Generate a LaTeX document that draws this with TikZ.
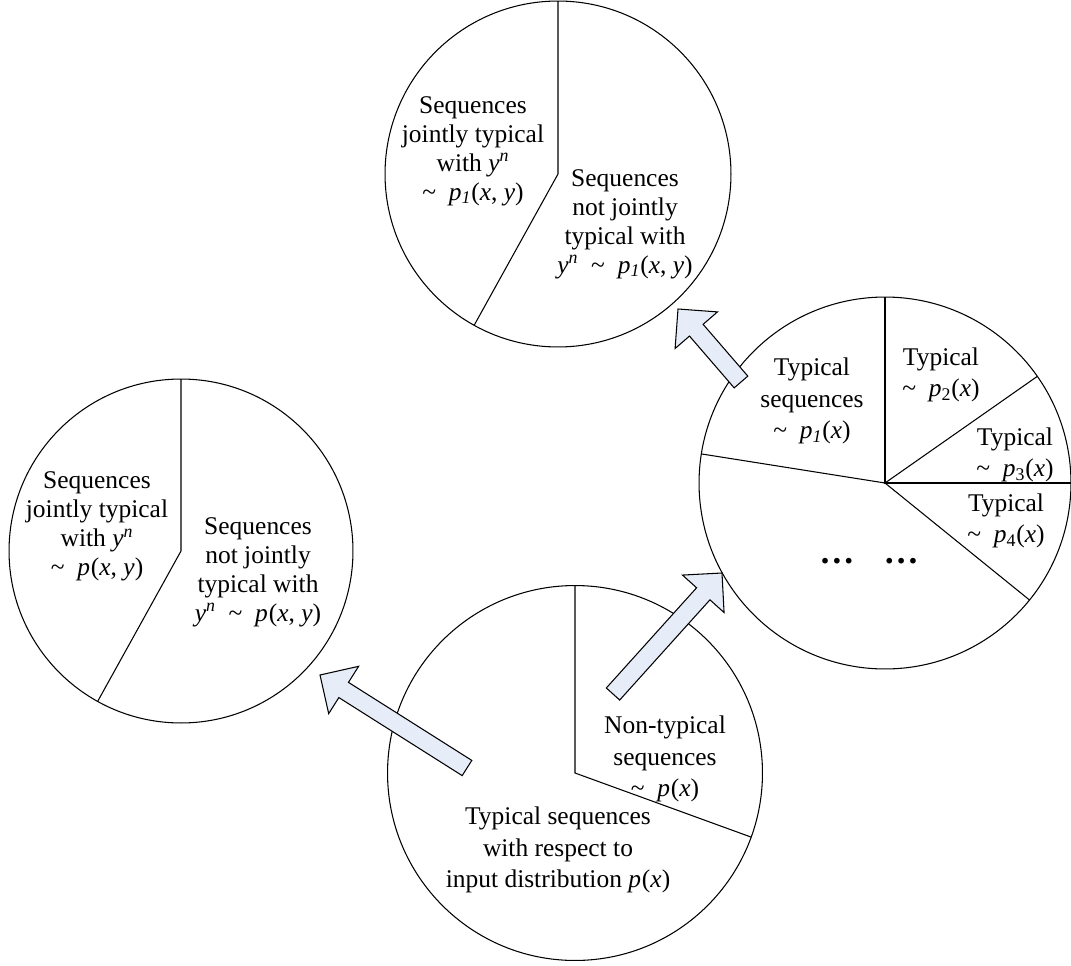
\documentclass[tikz,border=0pt]{standalone}
\usepackage{fontspec}
\setmainfont{Liberation Serif}
\usepackage{xcolor}
\usetikzlibrary{calc}

\definecolor{arrowblue}{RGB}{230,236,248}
\newcommand{\yn}{\textit{y}\textsuperscript{\textit{n}}}
\newcommand{\pof}[2]{\textit{p}\textsubscript{#1}(#2)}
\newcommand{\dist}{\textasciitilde\ \ }

\tikzset{
	region/.style={circle, draw=black, line width=0.6pt, inner sep=0pt, outer sep=0pt},
	divider/.style={black, line width=0.6pt},
	cell/.style={align=center, font=\fontsize{14.5}{16.5}\selectfont},
	loose cell/.style={align=center, font=\fontsize{14.5}{18}\selectfont},
	fatarrow/.style={draw=black, fill=arrowblue, line width=0.6pt, line join=miter}
}

\begin{document}
\begin{tikzpicture}[x=0.02cm, y=-0.02cm]
				\useasboundingbox (0,0) rectangle (1071,966);
				% the four sets
				\node[region, minimum size=6.92cm] (upper) at (558,174) {};
				\node[region, minimum size=6.88cm] (leftc) at (181,551) {};
				\node[region, minimum size=7.44cm] (rightc) at (885,483) {};
				\node[region, minimum size=7.5cm] (lower) at (575,773) {};
				% dividing lines
				\draw[divider] (upper.north) -- (upper.center) -- (upper.241);
				\draw[divider] (leftc.north) -- (leftc.center) -- (leftc.241);
				\draw[divider] (rightc.north) -- (rightc.center) -- (rightc.east);
				\draw[divider] (rightc.center) -- (rightc.35);
				\draw[divider] (rightc.center) -- (rightc.321);
				\draw[divider] (rightc.center) -- (rightc.171);
				\draw[divider] (lower.north) -- (lower.center) -- (lower.340);
				% texts
				\node[cell] (upjoint) at (473,151) {Sequences\\jointly typical\\with \yn\\\dist\pof{\textit{1}}{\textit{x}, \textit{y}}};
				\node[cell] (upnot) at (625,224) {Sequences\\not jointly\\typical with\\\yn\ \ \dist\pof{\textit{1}}{\textit{x}, \textit{y}}};
				\node[cell] (lfjoint) at (97,526) {Sequences\\jointly typical\\with \yn\\\dist\pof{}{\textit{x}, \textit{y}}};
				\node[cell] (lfnot) at (258,572) {Sequences\\not jointly\\typical with\\\yn\ \ \dist\pof{}{\textit{x}, \textit{y}}};
				\node[loose cell] (typ1) at (812,401) {Typical\\sequences\\\dist\pof{\textit{1}}{\textit{x}}};
				\node[loose cell] (typ2) at (941,375) {Typical\\\dist\pof{2}{\textit{x}}};
				\node[loose cell] (typ3) at (1015,455) {Typical\\\dist\pof{3}{\textit{x}}};
				\node[loose cell] (typ4) at (1006,521) {Typical\\\dist\pof{4}{\textit{x}}};
				\node[font=\fontsize{20}{24}\selectfont\bfseries] (dots) at (869,561) {\char"2026\hspace{0.83em}\char"2026};
				\node[loose cell] (nontyp) at (665,759) {Non-typical\\sequences\\\dist\pof{}{\textit{x}}};
				\node[loose cell] (typin) at (558,850) {Typical sequences\\with respect to\\input distribution \pof{}{\textit{x}}};
				% block arrows
				\coordinate (t1) at (467,768);
				\coordinate (h1) at (320,675);
				\coordinate (t2) at (613,694);
				\coordinate (h2) at (722,573);
				\coordinate (t3) at (741,382);
				\coordinate (h3) at (678,309);
				\foreach \i in {1,2,3}{
					\coordinate (b\i) at ($(h\i)!0.56cm!(t\i)$);
					\filldraw[fatarrow] ($(t\i)!0.18cm!90:(h\i)$) -- ($(b\i)!0.18cm!90:(h\i)$) -- ($(b\i)!0.56cm!90:(h\i)$) -- (h\i) -- ($(b\i)!0.56cm!-90:(h\i)$) -- ($(b\i)!0.18cm!-90:(h\i)$) -- ($(t\i)!0.18cm!-90:(h\i)$) -- cycle;
				}
\end{tikzpicture}
\end{document}
